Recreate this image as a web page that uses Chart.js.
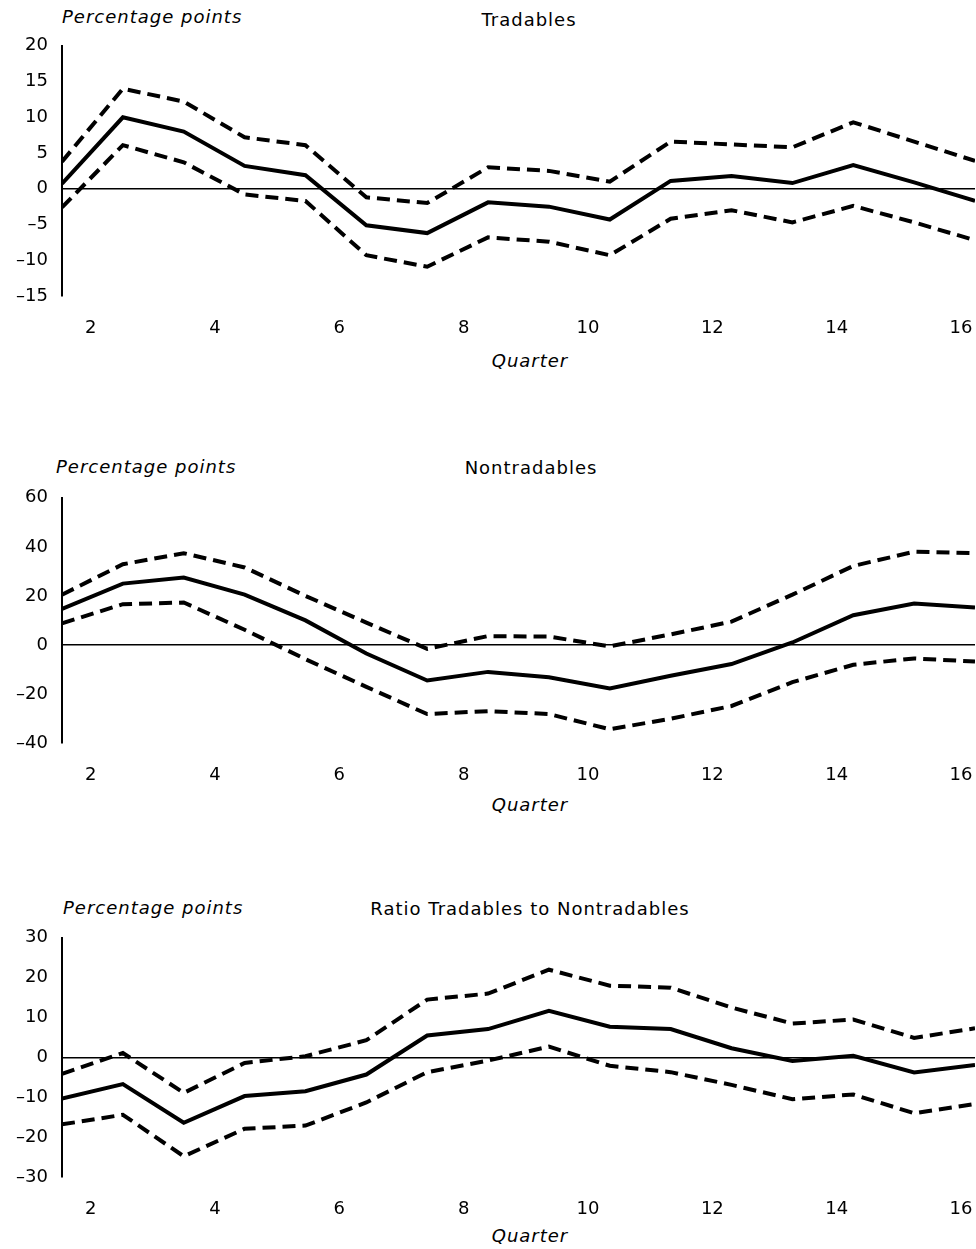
<!DOCTYPE html>
<html>
<head>
<meta charset="utf-8">
<script src="https://cdn.jsdelivr.net/npm/chart.js@4.4.1/dist/chart.umd.min.js"></script>
<style>
  html, body { margin: 0; padding: 0; background: #fff; }
  body { width: 976px; height: 1249px; position: relative; overflow: hidden; font-family: 'DejaVu Sans', sans-serif; color: #000; }
  canvas { position: absolute; left: 0; }
  .txt { position: absolute; white-space: nowrap; font-size: 18px; letter-spacing: 1px; line-height: 1; transform: translateY(-50%); }
  .center { transform: translate(-50%, -50%); }
  .it { font-style: italic; }
</style>
</head>
<body>
  <div class="txt it" style="left:62px; top:17px;">Percentage points</div>
  <div class="txt center" style="left:529px; top:20px;">Tradables</div>
  <div class="txt center it" style="left:530px; top:361px;">Quarter</div>
  <canvas id="c1"></canvas>

  <div class="txt it" style="left:56px; top:467px;">Percentage points</div>
  <div class="txt center" style="left:531px; top:468px;">Nontradables</div>
  <div class="txt center it" style="left:530px; top:805px;">Quarter</div>
  <canvas id="c2"></canvas>

  <div class="txt it" style="left:63px; top:908px;">Percentage points</div>
  <div class="txt center" style="left:530px; top:909px;">Ratio Tradables to Nontradables</div>
  <div class="txt center it" style="left:530px; top:1236px;">Quarter</div>
  <canvas id="c3"></canvas>

<script>
// quarters and x tick labels
const quarters = [1, 2, 3, 4, 5, 6, 7, 8, 9, 10, 11, 12, 13, 14, 15, 16];
const xTickLabels = ['2', '4', '6', '8', '10', '12', '14', '16'];

// Tradables: estimate and band
const tradablesEst   = [0.7, 10, 8.0, 3.2, 1.9, -5.1, -6.2, -1.9, -2.5, -4.3, 1.1, 1.8, 0.8, 3.3, 0.9, -1.7];
const tradablesUpper = [3.8, 14.0, 12.2, 7.2, 6.1, -1.2, -2.0, 3.0, 2.5, 1.0, 6.6, 6.2, 5.8, 9.3, 6.6, 3.9];
const tradablesLower = [-2.6, 6.1, 3.7, -0.8, -1.7, -9.3, -10.9, -6.8, -7.4, -9.3, -4.2, -3.0, -4.7, -2.4, -4.7, -7.2];

// Nontradables: estimate and band
const nontradablesEst   = [14.7, 25, 27.5, 20.5, 10, -3.5, -14.5, -11, -13.2, -17.8, -12.6, -7.8, 1, 12.1, 16.9, 15.3];
const nontradablesUpper = [20.5, 32.9, 37.4, 31.6, 20, 9.1, -1.6, 3.6, 3.4, -0.6, 4.3, 9.5, 20.5, 32.2, 38, 37.4];
const nontradablesLower = [8.8, 16.6, 17.3, 6.2, -5.8, -17.1, -28.2, -27, -28.2, -34.4, -30.1, -24.9, -15.2, -8.1, -5.5, -6.8];

// Ratio tradables to nontradables: estimate and band
const ratioEst   = [-10.3, -6.7, -16.4, -9.7, -8.5, -4.3, 5.5, 7.1, 11.7, 7.7, 7.1, 2.3, -0.9, 0.4, -3.8, -1.9];
const ratioUpper = [-4.1, 1.1, -8.9, -1.4, 0.3, 4.3, 14.5, 16, 22, 18, 17.5, 12.5, 8.5, 9.5, 4.9, 7.3];
const ratioLower = [-16.8, -14.4, -24.8, -17.9, -17.1, -11.3, -3.7, -0.8, 2.7, -2.1, -3.7, -6.9, -10.5, -9.3, -14.0, -11.7];

const tickFont = { family: "'DejaVu Sans', sans-serif", size: 18 };

function series(values, dashed) {
  return {
    data: quarters.map((q, i) => ({ x: q, y: values[i] })),
    borderColor: '#000',
    borderWidth: 4,
    borderDash: dashed ? [13, 7] : [],
    borderCapStyle: 'butt',
    borderJoinStyle: 'miter',
    pointRadius: 0,
    tension: 0,
    fill: false
  };
}

function drawPanel(id, plotTop, plotHeight, est, upper, lower, yMin, yMax, yStep) {
  const padTop = 14, axisH = 60;
  const canvas = document.getElementById(id);
  canvas.width = 976;
  canvas.height = padTop + plotHeight + axisH;
  canvas.style.top = (plotTop - padTop) + 'px';

  new Chart(canvas, {
    type: 'line',
    data: { datasets: [series(upper, true), series(est, false), series(lower, true)] },
    options: {
      responsive: false,
      animation: false,
      events: [],
      layout: { padding: { top: padTop, right: 1, left: 0, bottom: 0 } },
      plugins: { legend: { display: false }, tooltip: { enabled: false } },
      scales: {
        x: {
          type: 'linear', min: 1, max: 16,
          grid: { display: false, drawTicks: false },
          border: { display: false },
          afterBuildTicks: s => { s.ticks = xTickLabels.map((l, i) => ({ value: 1.47 + i * 2.043 })); },
          afterFit: s => { s.height = axisH; s.paddingLeft = 0; s.paddingRight = 0; },
          ticks: {
            padding: 22, color: '#000', font: tickFont, maxRotation: 0, autoSkip: false,
            callback: (v, i) => xTickLabels[i]
          }
        },
        y: {
          min: yMin, max: yMax,
          afterFit: s => { s.width = 62; },
          grid: {
            drawTicks: false,
            color: c => (c.tick && c.tick.value === 0) ? '#000' : 'rgba(0,0,0,0)',
            lineWidth: 1.5
          },
          border: { display: true, color: '#000', width: 2 },
          ticks: {
            stepSize: yStep, padding: 14, color: '#000', font: tickFont,
            callback: v => v < 0 ? '\u2013' + Math.abs(v) : String(v)
          }
        }
      }
    }
  });
}

drawPanel('c1', 35, 261, tradablesEst, tradablesUpper, tradablesLower, -15, 20, 5);
drawPanel('c2', 487, 256, nontradablesEst, nontradablesUpper, nontradablesLower, -40, 60, 20);
drawPanel('c3', 927, 250, ratioEst, ratioUpper, ratioLower, -30, 30, 10);
</script>
</body>
</html>
